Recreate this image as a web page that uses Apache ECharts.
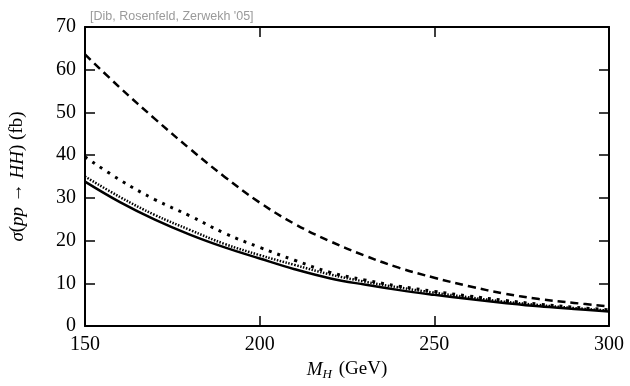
<!DOCTYPE html>
<html>
<head>
<meta charset="utf-8">
<script src="https://cdn.jsdelivr.net/npm/echarts@6/dist/echarts.min.js"></script>
<style>
  html, body { margin: 0; padding: 0; background: #fff; }
  #main { width: 630px; height: 386px; }
</style>
</head>
<body>
<div id="main"></div>
<script>
// Higgs mass (GeV)
const massH = [150, 160, 170, 180, 190, 200, 210, 220, 230, 240, 250, 260, 270, 280, 290, 300];
// sigma(pp -> HH) in fb
const solid = [33.8, 29.0, 24.9, 21.4, 18.4, 15.8, 13.3, 11.2, 9.7, 8.4, 7.3, 6.3, 5.4, 4.6, 4.0, 3.4];
const dotted = [35.0, 30.2, 26.0, 22.5, 19.2, 16.6, 14.3, 12.1, 10.4, 9.0, 7.8, 6.7, 5.7, 4.9, 4.2, 3.6];
const dashDot = [39.6, 34.2, 29.6, 25.8, 21.7, 18.4, 15.4, 12.6, 10.8, 9.3, 8.1, 7.0, 6.0, 5.1, 4.4, 3.8];
const dashed = [63.6, 55.8, 48.5, 41.5, 34.9, 28.9, 23.9, 19.9, 16.5, 13.6, 11.3, 9.3, 7.6, 6.3, 5.4, 4.6];

const serif = "Liberation Serif";

function pairs(ys) {
  return massH.map((x, i) => [x, ys[i]]);
}

function line(ys, type, width) {
  return {
    type: "line",
    data: pairs(ys),
    smooth: 0.4,
    symbol: "none",
    lineStyle: { color: "#000", width: width, type: type, cap: "butt" },
    xAxisIndex: 0,
    yAxisIndex: 0,
  };
}

const tickStyle = { inside: true, length: 10, lineStyle: { color: "#000", width: 1.5 } };
const lineAxis = { show: true, onZero: false, lineStyle: { color: "#000", width: 2 } };

const chart = echarts.init(document.getElementById("main"), null, { renderer: "canvas" });
chart.setOption({
  animation: false,
  title: {
    text: "[Dib, Rosenfeld, Zerwekh '05]",
    left: 85,
    top: 5,
    textStyle: { fontFamily: "Liberation Sans", fontSize: 12.5, fontWeight: "normal", color: "#9a9a9a" },
  },
  grid: { left: 81, right: 21, top: 27, bottom: 54 },
  xAxis: [
    {
      type: "value",
      min: 150,
      max: 300,
      interval: 50,
      axisLine: lineAxis,
      axisTick: tickStyle,
      splitLine: { show: false },
      axisLabel: { color: "#000", fontFamily: serif, fontSize: 20, margin: 9 },
      name: "{i|M}{s|H} (GeV)",
      nameLocation: "middle",
      nameGap: 32,
      nameTextStyle: {
        color: "#000",
        fontFamily: serif,
        fontSize: 19,
        rich: {
          i: { fontFamily: serif, fontSize: 19, fontStyle: "italic", color: "#000" },
          s: { fontFamily: serif, fontSize: 13, fontStyle: "italic", color: "#000", padding: [10, 2, 0, 0] },
        },
      },
    },
    {
      type: "value",
      position: "top",
      min: 150,
      max: 300,
      interval: 50,
      axisLine: lineAxis,
      axisTick: tickStyle,
      axisLabel: { show: false },
      splitLine: { show: false },
    },
  ],
  yAxis: [
    {
      type: "value",
      min: 0,
      max: 70,
      interval: 10,
      axisLine: lineAxis,
      axisTick: tickStyle,
      splitLine: { show: false },
      axisLabel: { color: "#000", fontFamily: serif, fontSize: 20, margin: 9 },
      name: "{i|σ}({i|pp} → {i|HH}) (fb)",
      nameLocation: "middle",
      nameGap: 58,
      nameRotate: 90,
      nameTextStyle: {
        color: "#000",
        fontFamily: serif,
        fontSize: 19,
        rich: {
          i: { fontFamily: serif, fontSize: 19, fontStyle: "italic", color: "#000" },
        },
      },
    },
    {
      type: "value",
      position: "right",
      min: 0,
      max: 70,
      interval: 10,
      axisLine: lineAxis,
      axisTick: tickStyle,
      axisLabel: { show: false },
      splitLine: { show: false },
    },
  ],
  series: [
    line(dashed, [8, 5], 2.5),
    line(dashDot, [3, 6], 3),
    line(dotted, [1.5, 1.5], 2.5),
    line(solid, "solid", 2.5),
  ],
});

window.onresize = chart.resize;
</script>
</body>
</html>
